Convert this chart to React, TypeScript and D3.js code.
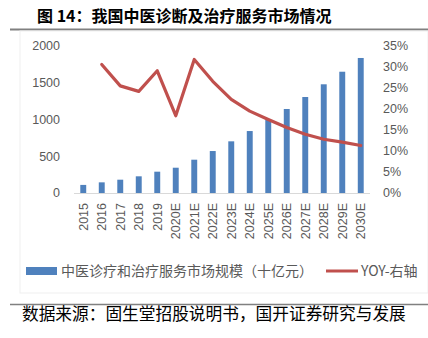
import React from "react";
import * as d3 from "d3";

const categories = ["2015","2016","2017","2018","2019","2020E","2021E","2022E","2023E","2024E","2025E","2026E","2027E","2028E","2029E","2030E"];
const marketSize = [110,145,181,227,290,344,453,571,703,843,993,1143,1306,1479,1650,1837];
const yoy: (number | null)[] = [null,30.6,25.5,24.2,29.1,18.4,31.8,26.6,22.3,19.5,17.5,15.6,14.0,12.8,12.1,11.3];
const leftTicks = [0,500,1000,1500,2000];
const rightTicks = [0,5,10,15,20,25,30,35];
const title = "图 14：我国中医诊断及治疗服务市场情况";
const source = "数据来源：固生堂招股说明书，国开证券研究与发展";
const barLabel = "中医诊疗和治疗服务市场规模（十亿元）";
const lineLabel = "YOY-右轴";

export default function App() {
  const W = 428, H = 338;
  const x = d3.scaleBand<string>().domain(categories).range([74, 370]).paddingInner(0.68).paddingOuter(0.34);
  const yL = d3.scaleLinear().domain([0, 2000]).range([193, 46]);
  const yR = d3.scaleLinear().domain([0, 35]).range([193, 46]);
  const cx = (c: string) => (x(c) as number) + x.bandwidth() / 2;
  const pts = categories.map((c, i) => ({ c, v: yoy[i] })).filter(d => d.v !== null) as { c: string; v: number }[];
  const line = d3.line<{ c: string; v: number }>().x(d => cx(d.c)).y(d => yR(d.v));
  const num = "'Liberation Sans', Arial, sans-serif";
  const cjk = "'Noto Sans CJK SC', sans-serif";
  return (
    <svg width={W} height={H} style={{ position: "absolute", left: 0, top: 0, background: "#fff" }}>
      <text x={37} y={22} fontFamily={cjk} fontWeight={700} fontSize={16} fill="#000">{title}</text>
      <line x1={10} x2={428} y1={29.5} y2={29.5} stroke="#808080" strokeWidth={2} />
      <rect x={20} y={31} width={408} height={262} fill="none" stroke="#efefef" strokeWidth={1} />
      {leftTicks.map(t => (
        <text key={t} x={60} y={yL(t)} dy="0.35em" textAnchor="end" fontFamily={num} fontSize={12.5} fill="#595959">{t}</text>
      ))}
      {rightTicks.map(t => (
        <text key={t} x={383} y={yR(t)} dy="0.35em" textAnchor="start" fontFamily={num} fontSize={12.5} fill="#595959">{t + "%"}</text>
      ))}
      {categories.map((c, i) => (
        <rect key={c} x={x(c)} y={yL(marketSize[i])} width={x.bandwidth()} height={193 - yL(marketSize[i])} fill="#4F81BD" />
      ))}
      <line x1={74} x2={370} y1={193.5} y2={193.5} stroke="#d9d9d9" strokeWidth={1} />
      <path d={line(pts) || ""} fill="none" stroke="#C0504D" strokeWidth={3.2} strokeLinejoin="round" strokeLinecap="round" />
      {categories.map(c => (
        <text key={c} transform={`translate(${cx(c)},203) rotate(-90)`} dy="0.35em" textAnchor="end" fontFamily={num} fontSize={12.5} fill="#595959">{c}</text>
      ))}
      <rect x={26} y={267} width={31} height={8} fill="#4F81BD" />
      <text x={61} y={271} dy="0.36em" fontFamily={cjk} fontSize={14} fill="#595959">{barLabel}</text>
      <line x1={326} x2={358} y1={271} y2={271} stroke="#C0504D" strokeWidth={3} />
      <text x={361} y={271} dy="0.36em" fontFamily={cjk} fontSize={14} fill="#595959">{lineLabel}</text>
      <line x1={10} x2={428} y1={304.5} y2={304.5} stroke="#808080" strokeWidth={1.5} />
      <text x={22} y={320} fontFamily={cjk} fontSize={16.7} fill="#000">{source}</text>
    </svg>
  );
}
